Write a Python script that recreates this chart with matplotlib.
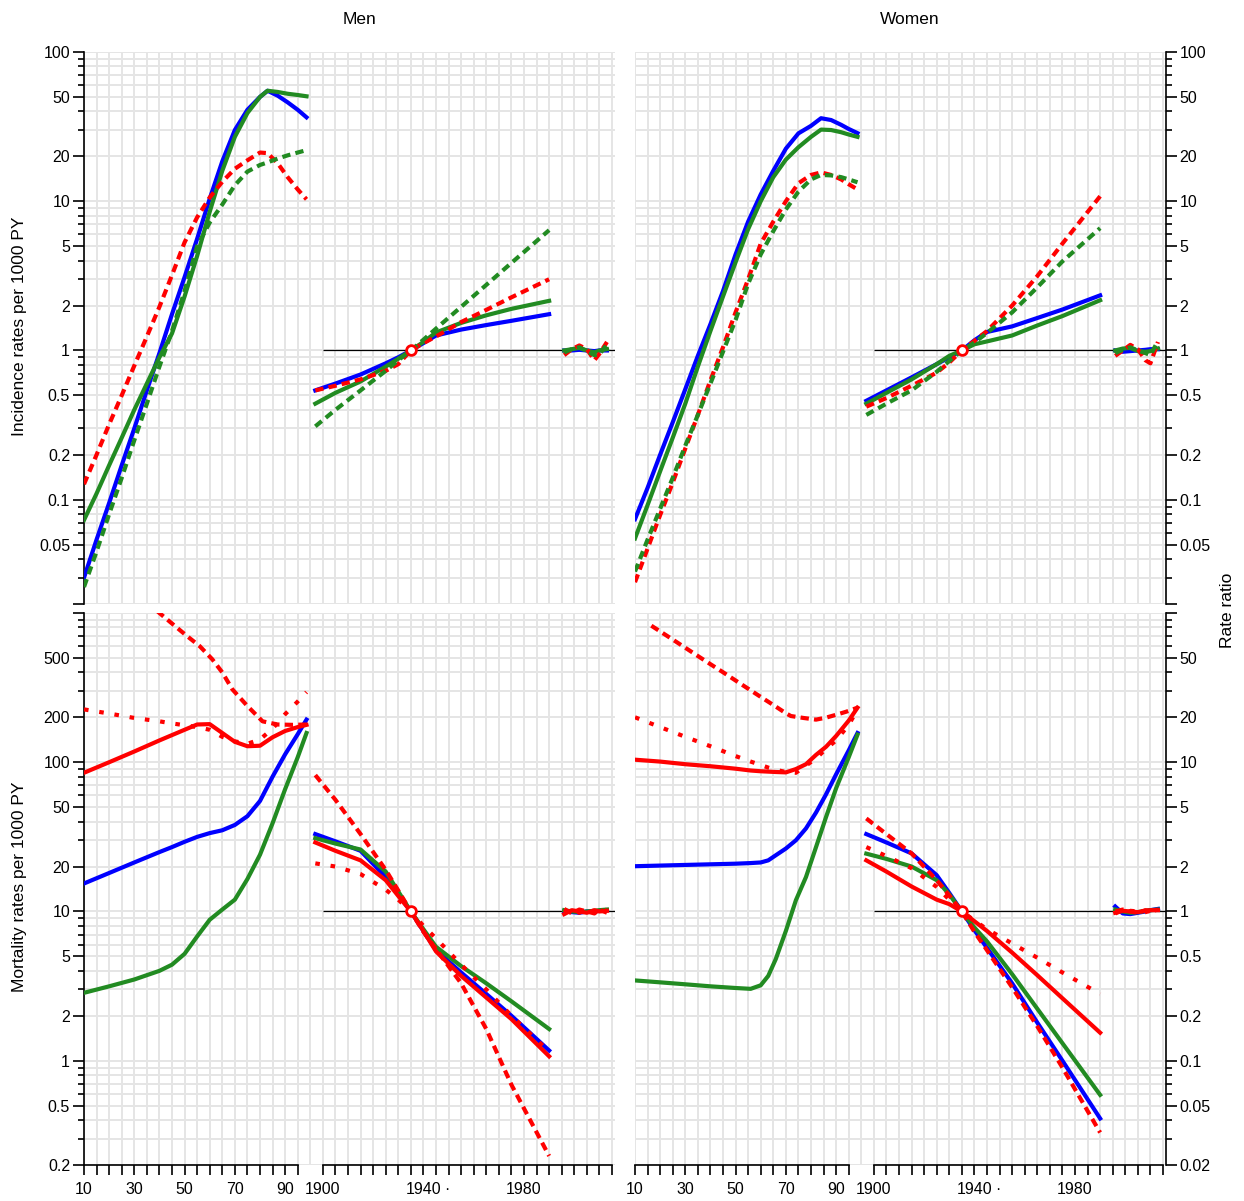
import matplotlib.pyplot as plt
from matplotlib.ticker import FixedLocator, FixedFormatter, NullFormatter

plt.rcParams['font.family'] = ['Liberation Sans', 'DejaVu Sans']

# calendar years share the x axis with age: year 1900 sits at x = 105
CAL0 = 1795
COH_REF = 1935

# ---------------- incidence, age effects (rates per 1000 PY) ----------------
inc_age_m = [10, 15, 20, 25, 30, 35, 40, 45, 50, 55, 60, 65, 70, 75, 80, 83, 87, 91, 95, 98.5]
inc_m_blue = [0.030, 0.054, 0.095, 0.17, 0.30, 0.54, 0.96, 1.75, 3.1, 5.6, 10.4, 18.5, 30, 41, 50, 55, 51, 46, 41, 36.5]
inc_m_green = [0.073, 0.11, 0.17, 0.26, 0.40, 0.60, 0.90, 1.3, 2.3, 4.3, 8.5, 16, 27, 39, 50, 55, 54, 52.5, 51.5, 50.5]
inc_m_red_dash = [0.127, 0.20, 0.32, 0.50, 0.79, 1.24, 1.96, 3.2, 5.3, 7.8, 10.6, 13.5, 16.5, 18.8, 21.2, 21, 18, 14.5, 12, 10.3]
inc_m_green_dash = [0.026, 0.045, 0.08, 0.14, 0.25, 0.44, 0.78, 1.35, 2.5, 5.0, 7.2, 9.5, 12.8, 15.8, 17.5, 18.2, 19.3, 20.3, 21.2, 22]

inc_age_w = [10, 15, 20, 25, 30, 35, 40, 45, 50, 55, 60, 65, 70, 75, 80, 84, 88, 92, 95, 98.5]
inc_w_blue = [0.074, 0.12, 0.20, 0.33, 0.55, 0.92, 1.5, 2.5, 4.4, 7.3, 11.1, 16, 22.5, 28.5, 32, 36, 35, 32.5, 30.5, 28.6]
inc_w_green = [0.055, 0.092, 0.155, 0.26, 0.44, 0.78, 1.35, 2.3, 3.9, 6.5, 10.0, 14.5, 19, 23, 27, 30.2, 30, 29, 28, 27]
inc_w_red_dash = [0.028, 0.047, 0.079, 0.13, 0.22, 0.37, 0.63, 1.05, 1.8, 3.0, 5.2, 7.3, 10, 13.2, 15, 15.6, 15, 14, 13, 12]
inc_w_green_dash = [0.033, 0.054, 0.087, 0.14, 0.23, 0.37, 0.60, 0.98, 1.6, 2.8, 4.4, 6.3, 8.8, 11.6, 14, 15, 14.9, 14.5, 14, 13.4]

# ---------------- mortality, age effects (rates per 1000 PY) ----------------
mort_age_m = [10, 20, 30, 40, 45, 50, 55, 60, 65, 70, 75, 80, 85, 90, 95, 98.5]
mort_m_blue = [15.4, 18.1, 21.3, 25, 27, 29.3, 31.6, 33.5, 35, 38, 43.5, 55, 80, 113, 154, 193]
mort_m_green = [2.85, 3.15, 3.5, 4.0, 4.4, 5.2, 6.8, 8.8, 10.3, 12, 16.5, 24, 39, 66, 108, 157]
mort_m_red = [85, 100, 118, 140, 152, 165, 179, 180, 157, 137, 128, 129, 147, 162, 172, 178]
mort_m_red_dot = [226, 212, 198, 188, 182, 177, 172, 165, 148, 138, 133, 142, 168, 210, 255, 295]
mort_age_m_dash = [35, 40, 45, 51, 56, 61, 65, 69, 75, 81, 87, 93, 98.5]
mort_m_red_dash = [1180, 1000, 850, 700, 600, 490, 400, 308, 238, 188, 179, 178, 179]

mort_age_w = [10, 20, 30, 40, 50, 56, 60, 63, 66, 70, 74, 78, 82, 86, 90, 95, 98.5]
mort_w_blue = [20.1, 20.3, 20.5, 20.7, 20.9, 21.1, 21.3, 22, 23.8, 26.4, 30, 36, 46, 61, 83, 120, 157]
mort_w_green = [3.45, 3.35, 3.25, 3.15, 3.07, 3.03, 3.2, 3.7, 4.8, 7.4, 11.9, 17, 27, 43, 67, 108, 153]
mort_w_red = [104, 101, 97, 94, 90.5, 88, 87, 86.5, 86, 85.5, 90, 97, 112, 127, 150, 190, 232]
mort_w_red_dot = [200, 172, 148, 128, 110, 101, 96, 92, 89, 86, 85, 95, 106, 123, 140, 178, 226]
mort_age_w_dash = [16.5, 25, 30, 35, 40, 45, 50, 55, 60, 65, 70, 72, 77, 82, 86, 90, 94, 98.5]
mort_w_red_dash = [822, 664, 585, 515, 454, 401, 353, 311, 274, 242, 213, 204, 198, 193, 199, 208, 218, 232]

# ---------------- cohort effects (rate ratios, ref 1935) ----------------
coh_years = [1897, 1905, 1915, 1925, 1930, 1935, 1940, 1945, 1955, 1965, 1975, 1990]
inc_coh_m_blue = [0.54, 0.60, 0.69, 0.82, 0.90, 1.0, 1.12, 1.26, 1.38, 1.48, 1.58, 1.75]
inc_coh_m_green = [0.44, 0.52, 0.62, 0.78, 0.88, 1.0, 1.14, 1.32, 1.53, 1.72, 1.90, 2.15]
inc_coh_m_red_dash = [0.54, 0.58, 0.64, 0.73, 0.81, 1.0, 1.12, 1.24, 1.55, 1.87, 2.27, 3.0]
inc_coh_m_green_dash = [0.31, 0.40, 0.54, 0.73, 0.86, 1.0, 1.18, 1.40, 1.96, 2.75, 3.86, 6.4]

inc_coh_w_blue = [0.46, 0.54, 0.66, 0.81, 0.90, 1.0, 1.17, 1.33, 1.45, 1.65, 1.88, 2.34]
inc_coh_w_green = [0.44, 0.52, 0.64, 0.81, 0.92, 1.0, 1.10, 1.15, 1.26, 1.47, 1.70, 2.17]
inc_coh_w_red_dash = [0.42, 0.48, 0.58, 0.71, 0.83, 1.0, 1.16, 1.35, 2.0, 3.15, 5.2, 10.8]
inc_coh_w_green_dash = [0.37, 0.44, 0.54, 0.72, 0.85, 1.0, 1.13, 1.31, 1.8, 2.65, 3.95, 6.6]

mort_coh_m_blue = [3.3, 2.95, 2.55, 1.7, 1.3, 1.0, 0.74, 0.55, 0.39, 0.28, 0.2, 0.117]
mort_coh_m_green = [3.1, 2.85, 2.6, 1.85, 1.36, 1.0, 0.76, 0.58, 0.43, 0.33, 0.25, 0.163]
mort_coh_m_red = [2.9, 2.55, 2.2, 1.62, 1.27, 1.0, 0.74, 0.54, 0.37, 0.265, 0.19, 0.107]
mort_coh_m_red_dash = [8.2, 5.6, 3.3, 1.9, 1.38, 1.0, 0.73, 0.56, 0.33, 0.163, 0.069, 0.023]
mort_coh_m_red_dot = [2.1, 2.0, 1.78, 1.4, 1.2, 1.0, 0.8, 0.66, 0.44, 0.3, 0.2, 0.115]

mort_coh_w_blue = [3.3, 2.9, 2.45, 1.75, 1.33, 1.0, 0.75, 0.57, 0.33, 0.18, 0.10, 0.041]
mort_coh_w_green = [2.44, 2.25, 2.0, 1.62, 1.3, 1.0, 0.78, 0.63, 0.38, 0.223, 0.131, 0.059]
mort_coh_w_red = [2.2, 1.85, 1.47, 1.2, 1.12, 1.0, 0.86, 0.74, 0.53, 0.374, 0.262, 0.154]
mort_coh_w_red_dash = [4.2, 3.3, 2.45, 1.62, 1.28, 1.0, 0.73, 0.55, 0.31, 0.17, 0.09, 0.033]
mort_coh_w_red_dot = [2.7, 2.35, 1.95, 1.46, 1.2, 1.0, 0.87, 0.76, 0.61, 0.49, 0.39, 0.28]

# ---------------- period effects (rate ratios) ----------------
per_years = [1996, 1999, 2002, 2005, 2008, 2010, 2013]
inc_per_m_blue = [1.0, 1.0, 1.01, 1.0, 0.99, 1.0, 1.0]
inc_per_m_green = [1.0, 1.02, 1.04, 1.0, 0.97, 1.0, 1.02]
inc_per_m_red_dash = [0.93, 1.02, 1.08, 1.02, 0.86, 0.95, 1.14]
inc_per_m_green_dash = [0.97, 1.02, 1.05, 0.99, 0.93, 0.94, 1.10]

inc_per_w_blue = [1.0, 0.98, 0.99, 1.0, 1.01, 1.02, 1.02]
inc_per_w_green = [1.0, 1.03, 1.04, 0.99, 0.98, 0.99, 1.03]
inc_per_w_red_dash = [0.92, 1.0, 1.09, 1.02, 0.86, 0.82, 1.14]
inc_per_w_green_dash = [0.96, 1.01, 1.05, 1.0, 0.96, 0.93, 1.16]

mort_per_m_blue = [1.0, 0.99, 0.98, 1.0, 1.0, 1.01, 1.02]
mort_per_m_green = [1.02, 1.0, 0.99, 1.0, 1.01, 1.02, 1.03]
mort_per_m_red = [0.96, 1.02, 1.0, 0.98, 1.02, 1.0, 1.01]
mort_per_m_red_dash = [1.04, 0.97, 1.03, 1.0, 0.97, 1.03, 0.98]
mort_per_m_red_dot = [0.97, 1.04, 0.98, 1.03, 1.0, 0.97, 1.03]

mort_per_w_blue = [1.08, 0.97, 0.96, 0.98, 1.0, 1.02, 1.04]
mort_per_w_green = [1.03, 1.0, 0.98, 0.99, 1.01, 1.02, 1.03]
mort_per_w_red = [0.98, 1.01, 1.0, 0.99, 1.01, 1.02, 1.02]
mort_per_w_red_dash = [1.0, 1.03, 1.0, 0.98, 1.02, 1.0, 1.03]
mort_per_w_red_dot = [0.97, 1.02, 1.01, 1.0, 0.99, 1.01, 1.0]

BLUE, GREEN, RED = '#0000ff', '#228b22', '#ff0000'
SOLID = '-'
DASHED = (0, (2.0, 1.25))
DOTTED = (0, (1.1, 2.6))
LW = 3.0
GRID = '#e5e5e5'
TICK_FS = 11.5

fig = plt.figure(figsize=(12.44, 12.01), dpi=100)

PW, PH = 530.5 / 1244, 552 / 1201
LEFT = {'Men': 84 / 1244, 'Women': 635 / 1244}
BOTTOM = {'inc': 1 - 604 / 1201, 'mort': 1 - 1165 / 1201}
YLIM = {'inc': (0.02, 100), 'mort': (0.2, 1000)}
RRLIM = (0.02, 100)


def log_ticks(lo, hi):
    major, minor = [], []
    dec = 1e-3
    while dec <= hi:
        for m in range(1, 10):
            v = round(m * dec, 6)
            if lo * 0.999 <= v <= hi * 1.001:
                (major if m in (1, 2, 5) else minor).append(v)
        dec *= 10
    return major, minor


def style_y(ax, lo, hi, skip, side, show):
    major, minor = log_ticks(lo, hi)
    ax.yaxis.set_major_locator(FixedLocator(major))
    ax.yaxis.set_minor_locator(FixedLocator(minor))
    labels = [('' if abs(v - skip) < 1e-9 else f'{v:g}') for v in major]
    ax.yaxis.set_major_formatter(FixedFormatter(labels) if show else NullFormatter())
    ax.yaxis.set_minor_formatter(NullFormatter())
    on_left = show and side == 'left'
    on_right = show and side == 'right'
    ax.tick_params(axis='y', which='major', length=8, width=1.2, labelsize=TICK_FS, pad=2,
                   left=on_left, labelleft=on_left, right=on_right, labelright=on_right)
    ax.tick_params(axis='y', which='minor', length=4.5, width=1.2,
                   left=on_left, right=on_right)
    if show:
        ax.spines[side].set_visible(True)
        ax.spines[side].set_linewidth(1.2)


def panel(sex, kind, age_curves, coh_curves, per_curves):
    ax = fig.add_axes([LEFT[sex], BOTTOM[kind], PW, PH])
    rr = ax.twinx()
    lo, hi = YLIM[kind]
    ax.set_yscale('log')
    ax.set_ylim(lo, hi)
    ax.set_xlim(10, 221)
    rr.set_yscale('log')
    rr.set_ylim(*RRLIM)
    for a in (ax, rr):
        for s in a.spines.values():
            s.set_visible(False)

    # grid: every 5 units across, every 1..9 per decade up
    ax.xaxis.remove_overlapping_locs = False
    ax.xaxis.set_minor_locator(FixedLocator(list(range(10, 221, 5))))
    ax.grid(True, which='minor', axis='x', color=GRID, lw=1.4, zorder=0)
    ax.grid(True, which='both', axis='y', color=GRID, lw=1.4, zorder=0)
    ax.set_axisbelow(True)

    style_y(ax, lo, hi, lo if kind == 'inc' else hi, 'left', sex == 'Men')
    style_y(rr, RRLIM[0], RRLIM[1], RRLIM[0] if kind == 'inc' else RRLIM[1], 'right', sex == 'Women')

    # bottom axis only on the mortality row: ages 10-95 and years 1900-2015
    ages_t = list(range(10, 96, 5))
    years_t = list(range(1900, 2016, 5))
    xt = ages_t + [y - CAL0 for y in years_t]
    xl = [str(a) if a in (10, 30, 50, 70, 90) else '' for a in ages_t] + \
         [str(y) if y in (1900, 1940, 1980) else '' for y in years_t]
    ax.xaxis.set_major_locator(FixedLocator(xt))
    ax.tick_params(axis='x', which='minor', length=0)
    if kind == 'mort':
        ax.xaxis.set_major_formatter(FixedFormatter(xl))
        ax.tick_params(axis='x', which='major', length=7, width=1.2, labelsize=TICK_FS, pad=5)
        xa = ax.get_xaxis_transform()
        ax.plot([ages_t[0], ages_t[-1]], [0, 0], color='k', lw=1.2, transform=xa, clip_on=False)
        ax.plot([years_t[0] - CAL0, years_t[-1] - CAL0], [0, 0], color='k', lw=1.2,
                transform=xa, clip_on=False)
        ax.annotate('·', (1950 - CAL0, 0), xycoords=xa, xytext=(-1, -12),
                    textcoords='offset points', ha='center', va='top', fontsize=TICK_FS)
    else:
        ax.tick_params(axis='x', which='major', length=0, labelbottom=False)

    for ages, vals, col, ls in age_curves:
        ax.plot(ages, vals, color=col, ls=ls, lw=LW, dash_capstyle='butt', zorder=3)

    rr.hlines(1, 1900 - CAL0, 221, color='k', lw=0.9, zorder=1)
    for vals, col, ls in coh_curves:
        rr.plot([y - CAL0 for y in coh_years], vals, color=col, ls=ls, lw=LW,
                dash_capstyle='butt', zorder=3)
    for vals, col, ls in per_curves:
        rr.plot([y - CAL0 for y in per_years], vals, color=col, ls=ls, lw=LW,
                dash_capstyle='butt', zorder=3)
    rr.plot(COH_REF - CAL0, 1, 'o', ms=7, mfc='white', mec=RED, mew=2, zorder=5)
    rr.set_xlim(10, 221)
    return ax


panel('Men', 'inc',
      [(inc_age_m, inc_m_blue, BLUE, SOLID), (inc_age_m, inc_m_green, GREEN, SOLID),
       (inc_age_m, inc_m_red_dash, RED, DASHED), (inc_age_m, inc_m_green_dash, GREEN, DASHED)],
      [(inc_coh_m_blue, BLUE, SOLID), (inc_coh_m_green, GREEN, SOLID),
       (inc_coh_m_red_dash, RED, DASHED), (inc_coh_m_green_dash, GREEN, DASHED)],
      [(inc_per_m_blue, BLUE, SOLID), (inc_per_m_green, GREEN, SOLID),
       (inc_per_m_red_dash, RED, DASHED), (inc_per_m_green_dash, GREEN, DASHED)])

panel('Women', 'inc',
      [(inc_age_w, inc_w_blue, BLUE, SOLID), (inc_age_w, inc_w_green, GREEN, SOLID),
       (inc_age_w, inc_w_red_dash, RED, DASHED), (inc_age_w, inc_w_green_dash, GREEN, DASHED)],
      [(inc_coh_w_blue, BLUE, SOLID), (inc_coh_w_green, GREEN, SOLID),
       (inc_coh_w_red_dash, RED, DASHED), (inc_coh_w_green_dash, GREEN, DASHED)],
      [(inc_per_w_blue, BLUE, SOLID), (inc_per_w_green, GREEN, SOLID),
       (inc_per_w_red_dash, RED, DASHED), (inc_per_w_green_dash, GREEN, DASHED)])

panel('Men', 'mort',
      [(mort_age_m, mort_m_blue, BLUE, SOLID), (mort_age_m, mort_m_green, GREEN, SOLID),
       (mort_age_m, mort_m_red, RED, SOLID), (mort_age_m_dash, mort_m_red_dash, RED, DASHED),
       (mort_age_m, mort_m_red_dot, RED, DOTTED)],
      [(mort_coh_m_blue, BLUE, SOLID), (mort_coh_m_green, GREEN, SOLID),
       (mort_coh_m_red, RED, SOLID), (mort_coh_m_red_dash, RED, DASHED),
       (mort_coh_m_red_dot, RED, DOTTED)],
      [(mort_per_m_blue, BLUE, SOLID), (mort_per_m_green, GREEN, SOLID),
       (mort_per_m_red, RED, SOLID), (mort_per_m_red_dash, RED, DASHED),
       (mort_per_m_red_dot, RED, DOTTED)])

panel('Women', 'mort',
      [(mort_age_w, mort_w_blue, BLUE, SOLID), (mort_age_w, mort_w_green, GREEN, SOLID),
       (mort_age_w, mort_w_red, RED, SOLID), (mort_age_w_dash, mort_w_red_dash, RED, DASHED),
       (mort_age_w, mort_w_red_dot, RED, DOTTED)],
      [(mort_coh_w_blue, BLUE, SOLID), (mort_coh_w_green, GREEN, SOLID),
       (mort_coh_w_red, RED, SOLID), (mort_coh_w_red_dash, RED, DASHED),
       (mort_coh_w_red_dot, RED, DOTTED)],
      [(mort_per_w_blue, BLUE, SOLID), (mort_per_w_green, GREEN, SOLID),
       (mort_per_w_red, RED, SOLID), (mort_per_w_red_dash, RED, DASHED),
       (mort_per_w_red_dot, RED, DOTTED)])

fig.text(359 / 1244, 1 - 20 / 1201, 'Men', ha='center', va='center', fontsize=12.5)
fig.text(910 / 1244, 1 - 20 / 1201, 'Women', ha='center', va='center', fontsize=12.5)
fig.text(20 / 1244, 1 - 326 / 1201, 'Incidence rates per 1000 PY', rotation=90,
         ha='center', va='center', fontsize=12.5)
fig.text(20 / 1244, 1 - 887 / 1201, 'Mortality rates per 1000 PY', rotation=90,
         ha='center', va='center', fontsize=12.5)
fig.text(1228 / 1244, 1 - 610 / 1201, 'Rate ratio', rotation=90,
         ha='center', va='center', fontsize=12.5)

fig.savefig('out.png', dpi=100)
